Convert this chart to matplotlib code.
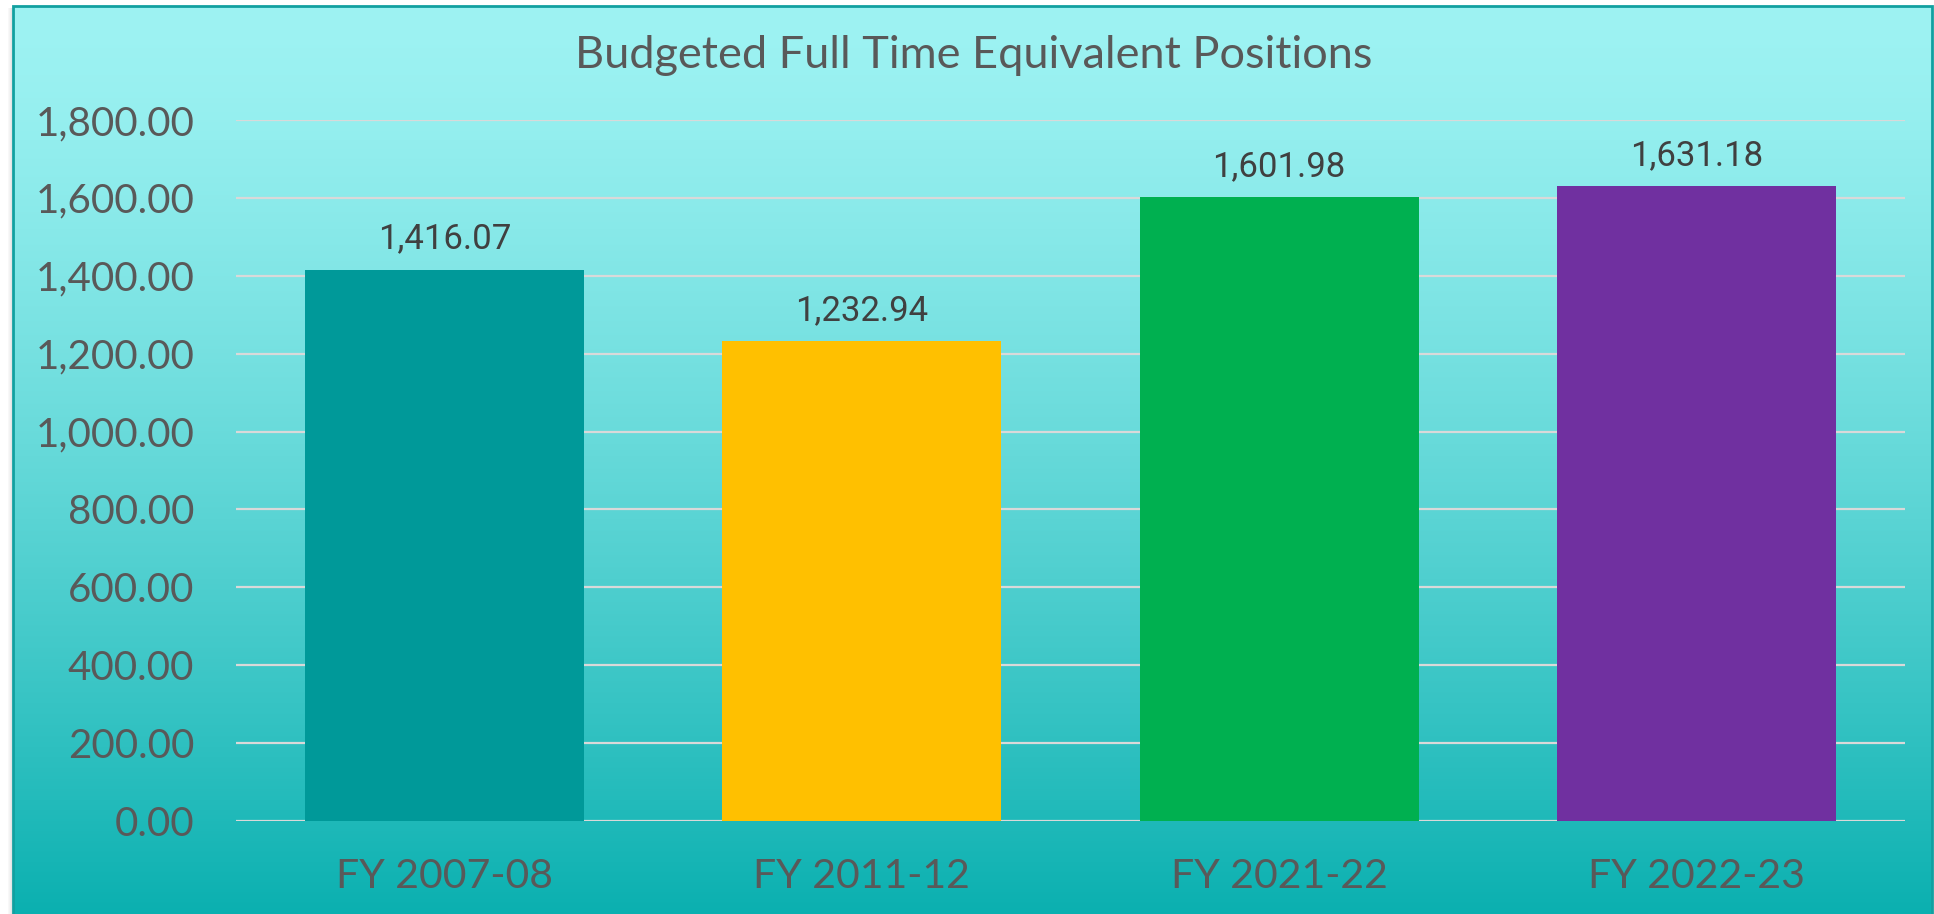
import matplotlib
matplotlib.use('Agg')
import matplotlib.pyplot as plt
import numpy as np
from matplotlib.patches import Rectangle
from matplotlib.ticker import FuncFormatter

# data
categories = ['FY 2007-08', 'FY 2011-12', 'FY 2021-22', 'FY 2022-23']
positions = [1416.07, 1232.94, 1601.98, 1631.18]
bar_colors = ['#009999', '#FFC000', '#00B050', '#7030A0']
y_ticks = [0, 200, 400, 600, 800, 1000, 1200, 1400, 1600, 1800]
title = 'Budgeted Full Time Equivalent Positions'

W, H = 1934, 914
fig = plt.figure(figsize=(W / 100, H / 100), dpi=100, facecolor='white')

# gradient background of the chart area
bg = fig.add_axes([13 / W, 0, (1933 - 13) / W, (H - 6) / H])
bg.axis('off')
t = np.linspace(0, 1, 256)[:, None] ** 1.35
top = np.array([0x9E, 0xF3, 0xF3]) / 255
bot = np.array([0x0B, 0xB0, 0xB0]) / 255
grad = top + (bot - top) * t[..., None]
bg.imshow(grad, aspect='auto', extent=[0, 1, 0, 1], interpolation='bilinear')

# soft shadow on the left and teal frame
for i, a in enumerate([0.05, 0.09, 0.14, 0.2]):
    fig.add_artist(Rectangle(((8 + i) / W, 0), 1 / W, (H - 8) / H,
                             transform=fig.transFigure, facecolor='#808080',
                             edgecolor='none', alpha=a))
fig.add_artist(Rectangle((13 / W, -0.01), (1932 - 13) / W, (H - 6) / H + 0.01,
                         transform=fig.transFigure, facecolor='none',
                         edgecolor='#12A0A0', linewidth=2))

# bars
ax = fig.add_axes([236 / W, (H - 821) / H, 1669 / W, 701 / H])
ax.set_facecolor('none')
x = np.arange(len(categories))
bars = ax.bar(x, positions, width=0.669, color=bar_colors, zorder=3)

for xi, v in zip(x, positions):
    ax.annotate(f'{v:,.2f}', (xi, v), xytext=(0, 15), textcoords='offset points',
                ha='center', va='baseline', fontsize=25, family='Roboto',
                color='#404040')

ax.set_xlim(-0.5, len(categories) - 0.5)
ax.set_ylim(0, 1800)
ax.set_yticks(y_ticks)
ax.yaxis.set_major_formatter(FuncFormatter(lambda v, p: f'{v:,.2f}'))
ax.set_xticks(x)
ax.set_xticklabels(categories)
ax.yaxis.grid(True, color='#D9D9D9', linewidth=1.6, zorder=1)
ax.set_axisbelow(True)
for s in ax.spines.values():
    s.set_visible(False)
ax.tick_params(axis='y', length=0, pad=30, labelsize=29, labelcolor='#595959')
ax.tick_params(axis='x', length=0, pad=27, labelsize=29.5, labelcolor='#595959')
for lbl in ax.get_xticklabels() + ax.get_yticklabels():
    lbl.set_family('Lato')

fig.text(974 / W, 1 - 68 / H, title, ha='center', va='baseline',
         fontsize=32.5, family='Lato', color='#595959')

fig.savefig('out.png', dpi=100, facecolor='white')
